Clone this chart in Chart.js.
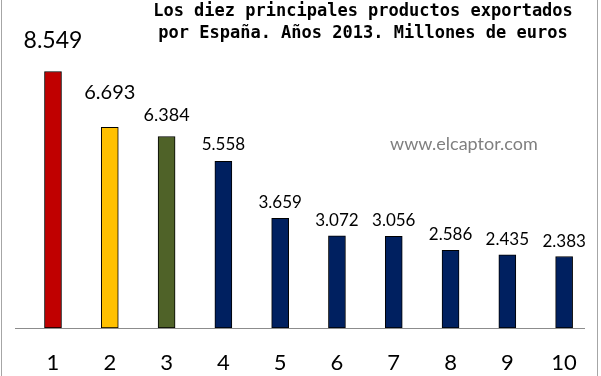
<!DOCTYPE html>
<html>
<head>
<meta charset="utf-8">
<script src="https://cdn.jsdelivr.net/npm/chart.js@4.4.1/dist/chart.umd.min.js"></script>
<style>
  html, body { margin: 0; padding: 0; background: #fff; }
  canvas { display: block; }
</style>
</head>
<body>
<canvas id="chart" width="601" height="376"></canvas>
<script>
// Datos: millones de euros, 2013
const posiciones = [1, 2, 3, 4, 5, 6, 7, 8, 9, 10];
const exportaciones = [8549, 6693, 6384, 5558, 3659, 3072, 3056, 2586, 2435, 2383];
const colores = ['#C00000', '#FFC000', '#4F6228', '#002060', '#002060',
                 '#002060', '#002060', '#002060', '#002060', '#002060'];
const titulo = ['Los diez principales productos exportados',
                'por España. Años 2013. Millones de euros'];
const marcaAgua = 'www.elcaptor.com';

// tamaño de la etiqueta de cada barra (las tres primeras van más grandes)
const tamEtiqueta = [23, 20, 18, 17, 17, 17, 17, 17, 17, 17];
const sepEtiqueta = [24, 28, 15, 11, 10, 10, 10, 10, 10, 10];

const formatoES = v => {
    const miles = Math.floor(v / 1000);
    const resto = String(v % 1000).padStart(3, '0');
    return miles > 0 ? miles + '.' + resto : String(v);
};

const fondoYMarco = {
    id: 'fondoYMarco',
    beforeDraw(chart) {
        const ctx = chart.ctx;
        ctx.save();
        ctx.fillStyle = '#fff';
        ctx.fillRect(0, 0, chart.width, chart.height);
        ctx.strokeStyle = '#a6a6a6';
        ctx.lineWidth = 1;
        ctx.beginPath();
        ctx.moveTo(1.5, 0);
        ctx.lineTo(1.5, chart.height);
        ctx.moveTo(597.5, 0);
        ctx.lineTo(597.5, chart.height);
        ctx.stroke();
        ctx.restore();
    }
};

const textos = {
    id: 'textos',
    afterDatasetsDraw(chart) {
        const ctx = chart.ctx;
        const meta = chart.getDatasetMeta(0);
        ctx.save();
        ctx.fillStyle = '#000';
        ctx.textAlign = 'center';
        ctx.textBaseline = 'alphabetic';
        meta.data.forEach((bar, i) => {
            ctx.font = tamEtiqueta[i] + 'px Lato';
            ctx.fillText(formatoES(exportaciones[i]), bar.x, bar.y - sepEtiqueta[i]);
        });

        // título
        ctx.font = 'bold 17px "DejaVu Sans Mono"';
        ctx.fillText(titulo[0], 363, 16);
        ctx.fillText(titulo[1], 363, 38);

        // marca de agua
        ctx.font = '18px Lato';
        ctx.fillStyle = '#7f7f7f';
        ctx.textAlign = 'left';
        ctx.fillText(marcaAgua, 390, 150);
        ctx.restore();
    }
};

new Chart(document.getElementById('chart'), {
    type: 'bar',
    data: {
        labels: posiciones,
        datasets: [{
            data: posiciones.map((p, i) => ({ x: p, y: exportaciones[i] })),
            backgroundColor: colores,
            borderColor: '#000',
            borderWidth: 1,
            borderSkipped: false,
            barThickness: 17
        }]
    },
    options: {
        responsive: false,
        animation: false,
        devicePixelRatio: 1,
        layout: { padding: { top: 28, left: 15, right: 17, bottom: 0 } },
        scales: {
            x: {
                type: 'linear',
                offset: false,
                min: 0.331,
                max: 10.35,
                afterBuildTicks: scale => {
                    scale.ticks = posiciones.map(v => ({ value: v }));
                },
                afterFit: scale => { scale.height = 48; },
                grid: { display: false, drawTicks: false },
                border: { display: true, color: '#8c8c8c', width: 1 },
                ticks: {
                    padding: 22,
                    color: '#000',
                    font: { family: 'Lato', size: 22 },
                    maxRotation: 0,
                    autoSkip: false
                }
            },
            y: {
                display: false,
                min: 0,
                max: 10000
            }
        },
        plugins: {
            legend: { display: false },
            tooltip: { enabled: false }
        }
    },
    plugins: [fondoYMarco, textos]
});
</script>
</body>
</html>
